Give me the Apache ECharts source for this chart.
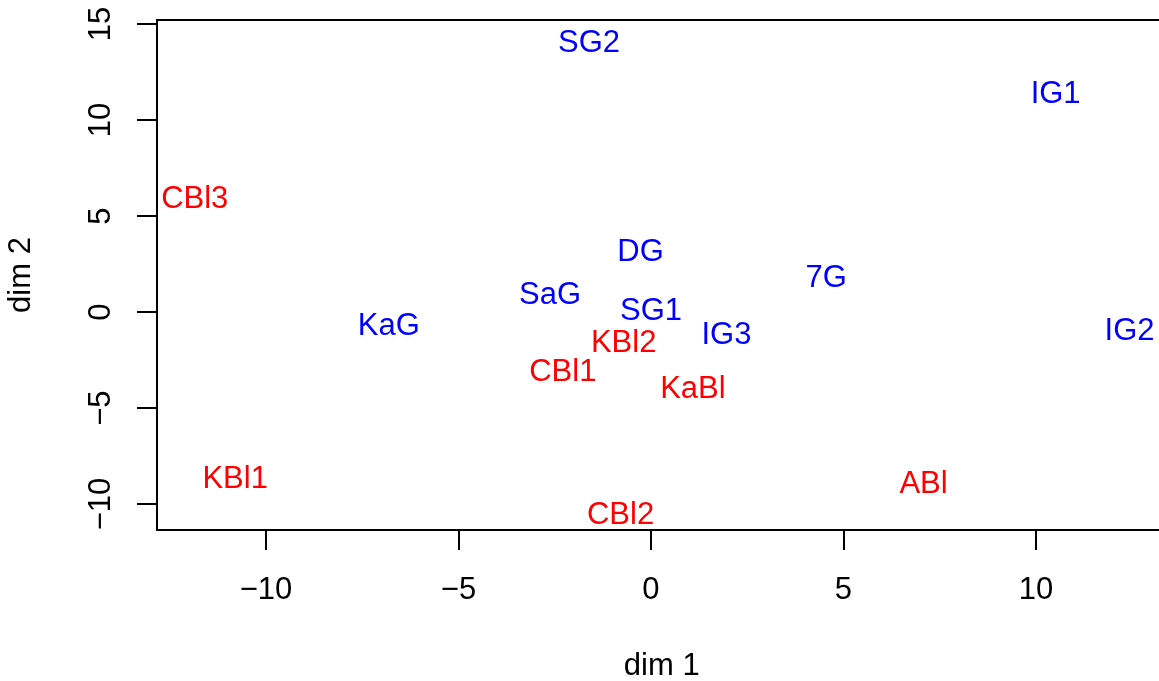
<!DOCTYPE html>
<html>
<head>
<meta charset="utf-8">
<script src="https://cdn.jsdelivr.net/npm/echarts@6/dist/echarts.min.js"></script>
<style>
html,body{margin:0;padding:0;background:#fff;overflow:hidden;}
#c{width:1159px;height:681px;}
</style>
</head>
<body>
<div id="c"></div>
<script>
// Data
const names  = ['SG2','IG1','CBl3','DG','7G','SaG','SG1','KaG','IG2','IG3','KBl2','CBl1','KaBl','KBl1','ABl','CBl2'];
const dim1   = [-1.61, 10.51, -11.85, -0.27, 4.55, -2.62, 0.00, -6.81, 12.43, 1.96, -0.71, -2.29, 1.09, -10.80, 7.08, -0.79];
const dim2   = [14.17, 11.49, 6.00, 3.28, 1.93, 1.02, 0.19, -0.59, -0.83, -1.04, -1.46, -2.99, -3.89, -8.58, -8.81, -10.45];
const groups = ['G','G','Bl','G','G','G','G','G','G','G','Bl','Bl','Bl','Bl','Bl','Bl'];
const xTicks = [-10, -5, 0, 5, 10];
const yTicks = [-10, -5, 0, 5, 10, 15];
const groupColors = {G: '#0000FF', Bl: '#FF0000'};

const FONT = 'Liberation Sans, Arial, Helvetica, sans-serif';
const FS = 31;
const minus = v => String(v).replace('-', '\u2212');

const chart = echarts.init(document.getElementById('c'), null, {renderer: 'canvas'});
const data = names.map((n, i) => ({
  value: [dim1[i], dim2[i]],
  name: n,
  label: {color: groupColors[groups[i]]}
}));

chart.setOption({
  animation: false,
  backgroundColor: '#ffffff',
  grid: {left: 157, top: 20, right: -7.5, bottom: 151, containLabel: false, outerBoundsMode: 'none'},
  xAxis: [{
    type: 'value', position: 'bottom',
    min: -12.83, max: 13.39,
    splitLine: {show: false},
    axisLine: {show: true, onZero: false, lineStyle: {color: '#000', width: 2}},
    axisTick: {show: true, length: 20, lineStyle: {color: '#000', width: 2}, customValues: xTicks},
    axisLabel: {show: true, customValues: xTicks, margin: 45, fontFamily: FONT, fontSize: FS, color: '#000', formatter: minus},
    name: 'dim 1', nameLocation: 'middle', nameGap: 121,
    nameTextStyle: {fontFamily: FONT, fontSize: FS, color: '#000'}
  }, {
    type: 'value', position: 'top',
    min: -12.83, max: 13.39,
    splitLine: {show: false},
    axisLine: {show: true, onZero: false, lineStyle: {color: '#000', width: 2}},
    axisTick: {show: false}, axisLabel: {show: false}
  }],
  yAxis: [{
    type: 'value', position: 'left',
    min: -11.35, max: 15.21,
    splitLine: {show: false},
    axisLine: {show: true, onZero: false, lineStyle: {color: '#000', width: 2}},
    axisTick: {show: true, length: 20, lineStyle: {color: '#000', width: 2}, customValues: yTicks},
    axisLabel: {show: true, customValues: yTicks, rotate: 90, margin: 40, fontFamily: FONT, fontSize: FS, color: '#000', formatter: minus},
    name: 'dim 2', nameLocation: 'middle', nameGap: 120, nameRotate: 90,
    nameTextStyle: {fontFamily: FONT, fontSize: FS, color: '#000'}
  }],
  series: [{
    type: 'scatter',
    symbolSize: 0,
    itemStyle: {opacity: 1},
    data: data,
    label: {
      show: true,
      position: 'inside',
      offset: [0, 3],
      formatter: p => p.name,
      fontFamily: FONT,
      fontSize: FS,
      align: 'center',
      verticalAlign: 'middle'
    },
    emphasis: {disabled: true}
  }]
});
</script>
</body>
</html>
